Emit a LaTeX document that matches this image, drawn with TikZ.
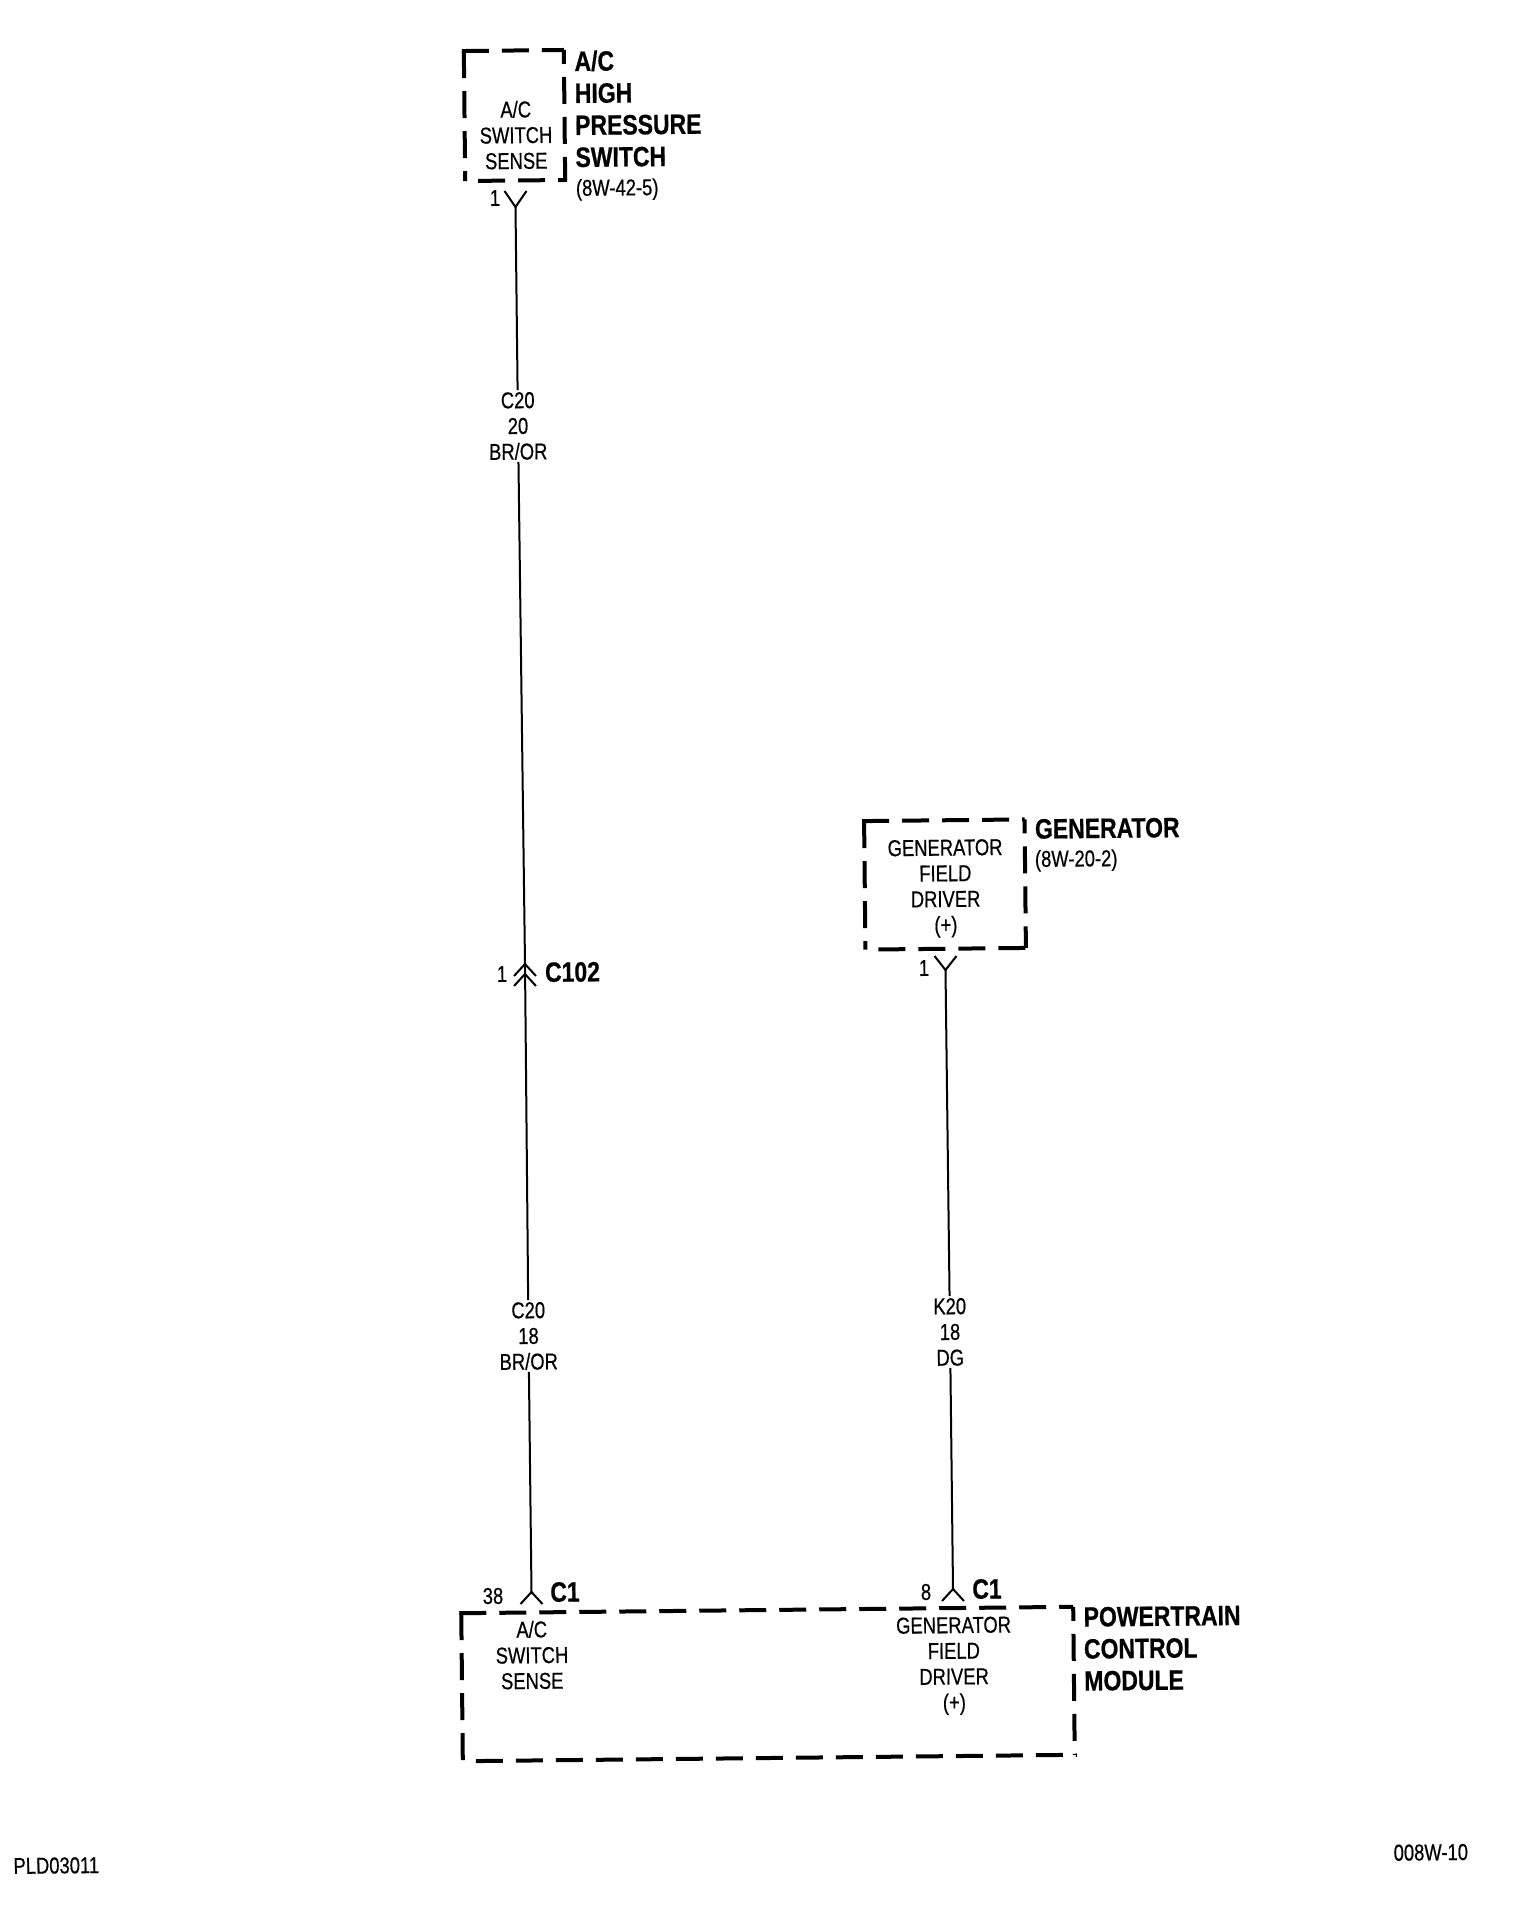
\documentclass[tikz,border=0pt]{standalone}
\usepackage{fontspec}
\setmainfont[FakeStretch=0.80,FakeBold=0.5]{Liberation Sans}
\newfontfamily\boldf[FakeStretch=0.82,FakeBold=0.6]{Liberation Sans Bold}
\tikzset{
  every node/.append style={rotate=0.6,inner sep=0pt,outer sep=0pt,text=black},
  small/.style={font=\fontsize{23}{25.7}\selectfont,align=center},
  title/.style={font=\boldf\fontsize{28}{32}\selectfont,align=left,anchor=west},
  side/.style={line width=4pt,dash pattern=on 27pt off 13pt,line cap=butt},
  wire/.style={line width=2pt},
  fork/.style={line width=2pt,line join=miter},
  boxspot/.style={rectangle,draw=none}
}
\begin{document}
\begin{tikzpicture}[x=1pt,y=-1pt]
\useasboundingbox (0,0) rectangle (1520,1920);
% boxes
\node[boxspot,minimum width=100pt,minimum height=130pt] (acbox) at (514.5,115.5) {};
\node[boxspot,minimum width=160.5pt,minimum height=128.5pt] (genbox) at (945,884.5) {};
\node[boxspot,minimum width=612pt,minimum height=148pt] (pcmbox) at (768,1684) {};
\foreach \b in {acbox,genbox,pcmbox}{
  \draw[side] ([xshift=-2pt]\b.north west) -- (\b.north east);
  \draw[side,dash phase=13pt] (\b.north east) -- (\b.south east);
  \draw[side,dash phase=27pt] (\b.south west) -- ([xshift=2pt]\b.south east);
  \draw[side] (\b.north west) -- (\b.south west);
}
% texts
\node[small] (actext) at (516,135) {A/C\\SWITCH\\SENSE};
\node[title] (actitle) at (575,109) {A/C\\[0pt]HIGH\\PRESSURE\\SWITCH};
\node[small,anchor=west] (acref) at (576,190) {(8W-42-5)};
\node[small] (gentext) at (945.5,888.5) {GENERATOR\\FIELD\\DRIVER\\(+)};
\node[title] (gentitle) at (1035,829) {GENERATOR};
\node[small,anchor=west] (genref) at (1035,861) {(8W-20-2)};
\node[small] (pcma) at (532,1655) {A/C\\SWITCH\\SENSE};
\node[small] (pcmb) at (954,1666) {GENERATOR\\FIELD\\DRIVER\\(+)};
\node[title] (pcmtitle) at (1084,1649) {POWERTRAIN\\CONTROL\\MODULE};
\node[small] (pinac) at (495,198) {1};
\node[small] (pingen) at (924,968) {1};
\node[small] (pinmid) at (502,974) {1};
\node[small] (pina) at (493,1596) {38};
\node[small] (pinb) at (926,1592) {8};
\node[title,anchor=center] (c102) at (572.5,972) {C102};
\node[title,anchor=center] (cla) at (565,1592) {C1};
\node[title,anchor=center] (clb) at (987,1589) {C1};
\node[small,inner sep=2pt] (wa) at (518,426) {C20\\20\\BR/OR};
\node[small,inner sep=2pt] (wb) at (528.5,1336) {C20\\18\\BR/OR};
\node[small,inner sep=2pt] (wc) at (950,1332) {K20\\18\\DG};
\node[small,anchor=west] (plate) at (13.5,1866) {PLD03011};
\node[small,anchor=east] (sheet) at (1468,1852) {008W-10};
% junctions
\coordinate (ja) at (515.5,207);
\coordinate (jg) at (945.5,970);
\coordinate (jm) at (525,964);
\coordinate (jn) at (525,974);
\coordinate (jpa) at (531.5,1592);
\coordinate (jpb) at (953,1589);
% connectors
\draw[wire] (ja) -- (wa);
\draw[wire] (wa) -- (jm);
\draw[wire] (jm) -- (wb);
\draw[wire] (wb) -- (jpa);
\draw[wire] (jg) -- (wc);
\draw[wire] (wc) -- (jpb);
\draw[fork] ([shift={(-11,-16)}]ja) -- (ja) -- ([shift={(11,-16)}]ja);
\draw[fork] ([shift={(-11,-14)}]jg) -- (jg) -- ([shift={(11,-14)}]jg);
\draw[fork] ([shift={(-11,12)}]jm) -- (jm) -- ([shift={(11,12)}]jm);
\draw[fork] ([shift={(-11,12)}]jn) -- (jn) -- ([shift={(11,12)}]jn);
\draw[fork] ([shift={(-11,12)}]jpa) -- (jpa) -- ([shift={(11,12)}]jpa);
\draw[fork] ([shift={(-11,12)}]jpb) -- (jpb) -- ([shift={(11,12)}]jpb);
\end{tikzpicture}
\end{document}
